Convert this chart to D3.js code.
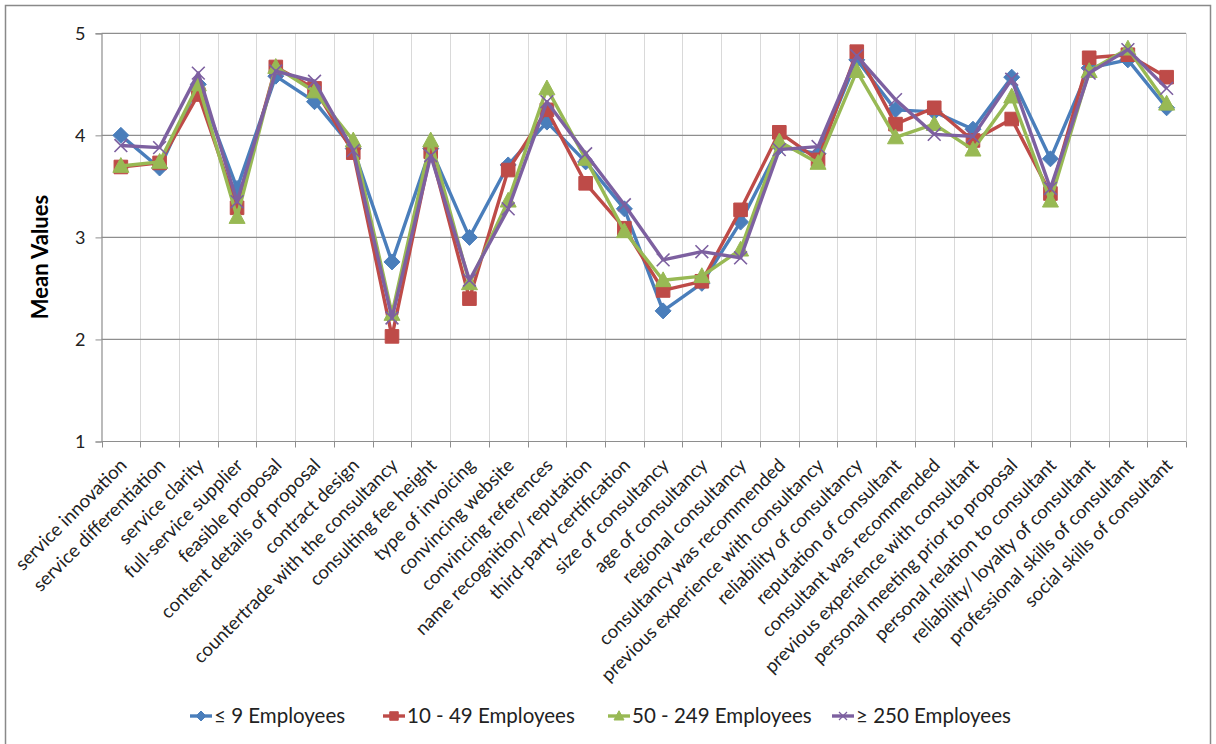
<!DOCTYPE html>
<html>
<head>
<meta charset="utf-8">
<script src="https://cdn.jsdelivr.net/npm/d3@7"></script>
<style>
  html, body { margin: 0; padding: 0; background: #fff; }
  svg { display: block; font-family: Lato, "Liberation Sans", sans-serif; }
</style>
</head>
<body>
<svg id="chart" width="1216" height="744"></svg>
<script>
// Decision criteria, in the order they appear along the x axis
const categories = [
  "service innovation", "service differentiation", "service clarity",
  "full-service supplier", "feasible proposal", "content details of proposal",
  "contract design", "countertrade with the consultancy", "consulting fee height",
  "type of invoicing", "convincing website", "convincing references",
  "name recognition/ reputation", "third-party certification", "size of consultancy",
  "age of consultancy", "regional consultancy", "consultancy was recommended",
  "previous experience with consultancy", "reliability of consultancy",
  "reputation of consultant", "consultant was recommended",
  "previous experience with consultant", "personal meeting prior to proposal",
  "personal relation to consultant", "reliability/ loyalty of consultant",
  "professional skills of consultant", "social skills of consultant"
];

// Mean values per company size
const upTo9 = [4.00, 3.68, 4.50, 3.48, 4.58, 4.33, 3.87, 2.76, 3.87, 3.00, 3.71, 4.13, 3.74, 3.28,
               2.28, 2.55, 3.15, 3.89, 3.82, 4.74, 4.25, 4.23, 4.06, 4.57, 3.77, 4.66, 4.74, 4.27];
const from10to49 = [3.69, 3.73, 4.40, 3.29, 4.67, 4.46, 3.83, 2.03, 3.84, 2.40, 3.66, 4.25, 3.53, 3.09,
                    2.48, 2.57, 3.27, 4.03, 3.76, 4.82, 4.11, 4.27, 3.95, 4.16, 3.43, 4.76, 4.79, 4.57];
const from50to249 = [3.70, 3.74, 4.50, 3.20, 4.67, 4.43, 3.95, 2.25, 3.95, 2.55, 3.36, 4.46, 3.77, 3.06,
                     2.58, 2.62, 2.88, 3.94, 3.73, 4.63, 3.98, 4.11, 3.86, 4.38, 3.36, 4.63, 4.85, 4.31];
const from250 = [3.90, 3.88, 4.61, 3.35, 4.63, 4.53, 3.85, 2.21, 3.80, 2.58, 3.28, 4.33, 3.82, 3.32,
                 2.78, 2.86, 2.80, 3.86, 3.89, 4.78, 4.35, 4.01, 3.99, 4.55, 3.48, 4.61, 4.84, 4.46];

const seriesNames = ["\u2264 9 Employees", "10 - 49 Employees", "50 - 249 Employees", "\u2265 250 Employees"];
const yTicks = [1, 2, 3, 4, 5];

const seriesStyle = [
  { color: "#4A7EBB", marker: "diamond" },
  { color: "#BE4B48", marker: "square" },
  { color: "#98B954", marker: "triangle" },
  { color: "#7D60A0", marker: "cross" }
];
const seriesValues = [upTo9, from10to49, from50to249, from250];
const series = seriesNames.map((name, i) => ({ name, values: seriesValues[i], ...seriesStyle[i] }));

const svg = d3.select("#chart");
const W = 1216, H = 744;
const plot = { left: 101.5, right: 1186, top: 33.3, bottom: 441.5 };

// outer chart frame
svg.append("rect").attr("x", 0).attr("y", 0).attr("width", W).attr("height", H).attr("fill", "#fff");
svg.append("rect")
  .attr("x", 5.5).attr("y", 5.5).attr("width", 1205).attr("height", 760)
  .attr("fill", "none").attr("stroke", "#898989").attr("stroke-width", 1.5);

const x = d3.scaleBand().domain(categories).range([plot.left, plot.right]).padding(0);
const y = d3.scaleLinear().domain([1, 5]).range([plot.bottom, plot.top]);
const cx = c => x(c) + x.bandwidth() / 2;

// vertical category gridlines
const bounds = categories.map(c => x(c)).concat([plot.right]);
svg.append("g").selectAll("line").data(bounds.slice(1)).join("line")
  .attr("x1", d => Math.round(d) + 0.5).attr("x2", d => Math.round(d) + 0.5)
  .attr("y1", plot.top).attr("y2", plot.bottom)
  .attr("stroke", "#D9D9D9").attr("stroke-width", 1);

// horizontal value gridlines
svg.append("g").selectAll("line").data(yTicks.filter(t => t > 1)).join("line")
  .attr("x1", plot.left).attr("x2", plot.right)
  .attr("y1", d => y(d)).attr("y2", d => y(d))
  .attr("stroke", "#8E8E8E").attr("stroke-width", 1.2);

// y axis
const yAxis = d3.axisLeft(y).tickValues(yTicks).tickSize(6).tickPadding(10).tickFormat(d3.format("d"));
const gy = svg.append("g").attr("transform", `translate(${plot.left},0)`).call(yAxis);
gy.select(".domain").attr("stroke", "#8E8E8E").attr("stroke-width", 1.2);
gy.selectAll(".tick line").attr("stroke", "#8E8E8E");
gy.selectAll(".tick text").attr("font-family", "Lato, sans-serif").attr("font-size", 18).attr("fill", "#222");

// x axis with ticks at category boundaries
const gx = svg.append("g").attr("transform", `translate(0,${plot.bottom})`);
gx.append("line").attr("x1", plot.left).attr("x2", plot.right).attr("y1", 0).attr("y2", 0)
  .attr("stroke", "#8E8E8E").attr("stroke-width", 1.2);
gx.selectAll("line.tk").data(bounds).join("line").attr("class", "tk")
  .attr("x1", d => Math.round(d) + 0.5).attr("x2", d => Math.round(d) + 0.5)
  .attr("y1", 0).attr("y2", 6).attr("stroke", "#8E8E8E");
gx.selectAll("text").data(categories).join("text")
  .attr("transform", d => `translate(${cx(d) + 7},${25}) rotate(-45)`)
  .attr("text-anchor", "end")
  .attr("font-size", 18.6).attr("fill", "#222")
  .text(d => d);

// y axis title
svg.append("text")
  .attr("transform", `translate(48,257) rotate(-90)`)
  .attr("text-anchor", "middle").attr("font-weight", "bold").attr("font-size", 22)
  .attr("fill", "#000").text("Mean Values");

// marker paths
function markerPath(type, s) {
  const h = s / 2;
  switch (type) {
    case "diamond": return `M0,${-h}L${h},0L0,${h}L${-h},0Z`;
    case "square": return `M${-h * 0.85},${-h * 0.85}H${h * 0.85}V${h * 0.85}H${-h * 0.85}Z`;
    case "triangle": return `M0,${-h * 1.05}L${h},${h * 0.8}L${-h},${h * 0.8}Z`;
    case "cross": return `M${-h * 0.8},${-h * 0.8}L${h * 0.8},${h * 0.8}M${h * 0.8},${-h * 0.8}L${-h * 0.8},${h * 0.8}`;
  }
}

const line = d3.line().x((d, i) => cx(categories[i])).y(d => y(d));

series.forEach(s => {
  const g = svg.append("g");
  g.append("path").datum(s.values).attr("d", line)
    .attr("fill", "none").attr("stroke", s.color).attr("stroke-width", 3.4)
    .attr("stroke-linejoin", "round");
  g.selectAll("path.m").data(s.values).join("path").attr("class", "m")
    .attr("transform", (d, i) => `translate(${cx(categories[i])},${y(d)})`)
    .attr("d", markerPath(s.marker, 16))
    .attr("fill", s.marker === "cross" ? "none" : s.color)
    .attr("stroke", s.color).attr("stroke-width", s.marker === "cross" ? 1.6 : 1);
});

// legend
const legendX = [190, 383, 608, 832];
const lg = svg.append("g").attr("transform", "translate(0,716)");
series.forEach((s, i) => {
  const item = lg.append("g").attr("transform", `translate(${legendX[i]},0)`);
  item.append("line").attr("x1", 0).attr("x2", 22).attr("y1", 0).attr("y2", 0)
    .attr("stroke", s.color).attr("stroke-width", 3.4);
  item.append("path").attr("transform", "translate(11,0)")
    .attr("d", markerPath(s.marker, 10))
    .attr("fill", s.marker === "cross" ? "none" : s.color)
    .attr("stroke", s.color).attr("stroke-width", s.marker === "cross" ? 1.2 : 1);
  item.append("text").attr("x", 24).attr("y", 0).attr("dy", "0.36em")
    .attr("font-size", 20.5).attr("fill", "#222").text(s.name);
});
</script>
</body>
</html>
